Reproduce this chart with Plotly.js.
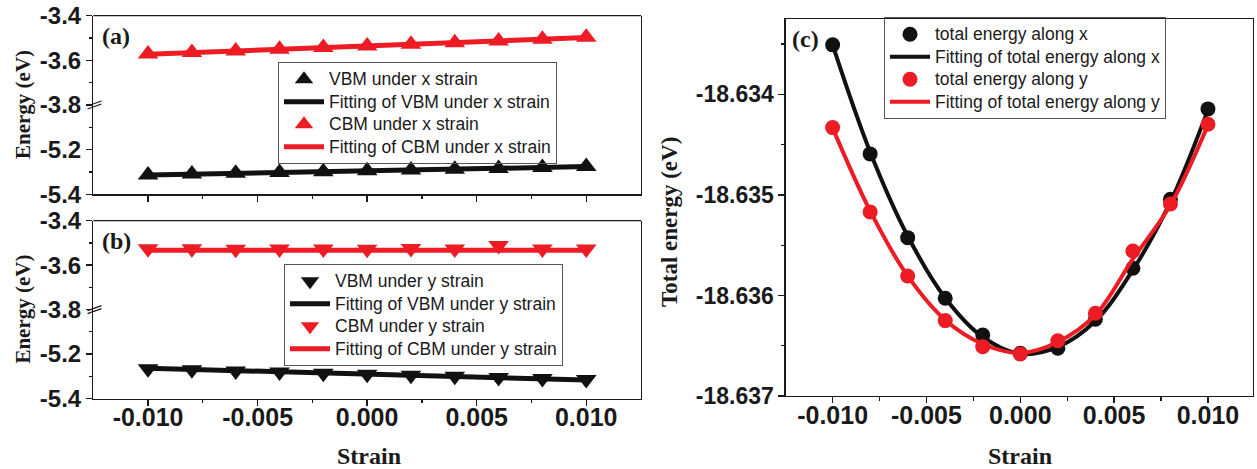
<!DOCTYPE html>
<html><head><meta charset="utf-8">
<script src="https://cdn.plot.ly/plotly-3.0.1.min.js"></script>
<style>body{margin:0;background:#fff}#chart{width:1257px;height:469px}</style>
</head><body><div id="chart"></div>
<script>
// ---- data ----
const strain = [-0.010,-0.008,-0.006,-0.004,-0.002,0.000,0.002,0.004,0.006,0.008,0.010];
const strainTicks = [-0.010,-0.005,0.000,0.005,0.010];
const strainTickText = ['-0.010','-0.005','0.000','0.005','0.010'];

// panel (a): x strain
const vbmX    = [-5.313,-5.309,-5.306,-5.302,-5.299,-5.295,-5.291,-5.288,-5.284,-5.280,-5.276];
const vbmXFit = [-5.314,-5.310,-5.306,-5.303,-5.299,-5.295,-5.291,-5.287,-5.284,-5.280,-5.276];
const cbmX    = [-3.572,-3.565,-3.558,-3.550,-3.543,-3.536,-3.528,-3.521,-3.513,-3.506,-3.497];
const cbmXFit = [-3.573,-3.566,-3.558,-3.551,-3.543,-3.536,-3.528,-3.521,-3.513,-3.506,-3.498];

// panel (b): y strain
const vbmY    = [-5.266,-5.271,-5.276,-5.281,-5.286,-5.291,-5.295,-5.300,-5.305,-5.310,-5.315];
const vbmYFit = [-5.264,-5.269,-5.275,-5.280,-5.285,-5.291,-5.296,-5.301,-5.306,-5.312,-5.317];
const cbmY    = [-3.526,-3.526,-3.528,-3.527,-3.527,-3.528,-3.525,-3.527,-3.512,-3.527,-3.527];
const cbmYFit = [-3.533,-3.533,-3.533,-3.533,-3.533,-3.533,-3.533,-3.533,-3.533,-3.533,-3.533];

// panel (c): total energy
const totX    = [-18.633507,-18.634592,-18.635425,-18.636028,-18.636393,-18.636575,-18.636525,-18.636237,-18.635729,-18.635043,-18.634144];
const totXFit = [-18.633507,-18.634572,-18.635408,-18.636025,-18.636413,-18.636582,-18.636512,-18.636254,-18.635746,-18.635070,-18.634154];
const totY    = [-18.634330,-18.635169,-18.635806,-18.636250,-18.636509,-18.636582,-18.636450,-18.636177,-18.635557,-18.635090,-18.634297];
const totYFit = [-18.634333,-18.635159,-18.635806,-18.636244,-18.636483,-18.636572,-18.636463,-18.636194,-18.635637,-18.635100,-18.634303];
const eTicks = [-18.637,-18.636,-18.635,-18.634];
const eTickText = ['-18.637','-18.636','-18.635','-18.634'];

// ---- layout helpers ----
const W = 1257, H = 469;
const fx = p => p / W, fy = p => 1 - p / H;
const RED = '#ed1c24', BLACK = '#111111', INK = '#1a1a1a';
const sans = (s) => ({family:'Liberation Sans, Arial, sans-serif', size:s, color:INK, weight:700});
const serif = (s) => ({family:'Liberation Serif, Times New Roman, serif', size:s, color:INK, weight:700});
const legFont = {family:'Liberation Sans, Arial, sans-serif', size:15, color:INK};
const big = t => '<span style="font-size:17.5px">' + t + '</span>';
const xlab = t => '<span style="font-size:25px">' + t + '</span>';

function yseg(top, bottom, range, ticks, minors, fs) {
  return {domain:[fy(bottom), fy(top)], range:range, tickvals:ticks,
    ticktext:ticks.map(v => v.toFixed(1)), ticks:'outside', ticklen:6, tickwidth:1.3, tickcolor:INK,
    minor:{tickvals:minors, ticks:'outside', ticklen:3.5, tickwidth:1.3, tickcolor:INK},
    showline:true, linewidth:1.3, linecolor:INK, mirror:true, showgrid:false, zeroline:false,
    tickfont:sans(fs || 24), fixedrange:true};
}
function xax(l, r, anchor, range, labels) {
  return {domain:[fx(l), fx(r)], anchor:anchor, range:range, tickvals:strainTicks, ticktext:strainTickText.map(xlab),
    showticklabels:labels, ticks:'outside', ticklen:6, tickwidth:1.3, tickcolor:INK,
    minor:{tickvals:[-0.0075,-0.0025,0.0025,0.0075], ticks:'outside', ticklen:3.5, tickwidth:1.3, tickcolor:INK},
    showline:true, linewidth:1.3, linecolor:INK, showgrid:false, zeroline:false, tickfont:sans(17), fixedrange:true};
}

const A = {l:93.3, r:641, top:15.7, mid:105, bot:194.3};
const B = {l:93.3, r:641, top:220.7, mid:309.6, bot:398.5};
const C = {l:785.7, r:1253, top:19, bot:396};

const traces = [
  // (a)
  {x:strain, y:vbmXFit, xaxis:'x', yaxis:'y2', mode:'lines', line:{color:BLACK, width:5}, name:big('Fitting of VBM under x strain'), legend:'legend', legendrank:2},
  {x:strain, y:vbmX, xaxis:'x', yaxis:'y2', mode:'markers', marker:{symbol:'triangle-up', size:18, color:BLACK}, name:big('VBM under x strain'), legend:'legend', legendrank:1},
  {x:strain, y:cbmXFit, xaxis:'x', yaxis:'y', mode:'lines', line:{color:RED, width:5}, name:big('Fitting of CBM under x strain'), legend:'legend', legendrank:4},
  {x:strain, y:cbmX, xaxis:'x', yaxis:'y', mode:'markers', marker:{symbol:'triangle-up', size:18, color:RED}, name:big('CBM under x strain'), legend:'legend', legendrank:3},
  // (b)
  {x:strain, y:vbmYFit, xaxis:'x2', yaxis:'y4', mode:'lines', line:{color:BLACK, width:5}, name:big('Fitting of VBM under y strain'), legend:'legend2', legendrank:2},
  {x:strain, y:vbmY, xaxis:'x2', yaxis:'y4', mode:'markers', marker:{symbol:'triangle-down', size:18, color:BLACK}, name:big('VBM under y strain'), legend:'legend2', legendrank:1},
  {x:strain, y:cbmYFit, xaxis:'x2', yaxis:'y3', mode:'lines', line:{color:RED, width:5}, name:big('Fitting of CBM under y strain'), legend:'legend2', legendrank:4},
  {x:strain, y:cbmY, xaxis:'x2', yaxis:'y3', mode:'markers', marker:{symbol:'triangle-down', size:18, color:RED}, name:big('CBM under y strain'), legend:'legend2', legendrank:3},
  // (c)
  {x:strain, y:totX, xaxis:'x3', yaxis:'y5', mode:'markers', marker:{symbol:'circle', size:15, color:BLACK}, name:big('total energy along x'), legend:'legend3', legendrank:1},
  {x:strain, y:totXFit, xaxis:'x3', yaxis:'y5', mode:'lines', line:{color:BLACK, width:4, shape:'spline'}, name:big('Fitting of total energy along x'), legend:'legend3', legendrank:2},
  {x:strain, y:totY, xaxis:'x3', yaxis:'y5', mode:'markers', marker:{symbol:'circle', size:15, color:RED}, name:big('total energy along y'), legend:'legend3', legendrank:3},
  {x:strain, y:totYFit, xaxis:'x3', yaxis:'y5', mode:'lines', line:{color:RED, width:4, shape:'spline'}, name:big('Fitting of total energy along y'), legend:'legend3', legendrank:4}
];

const legBase = {xanchor:'left', yanchor:'top', bgcolor:'rgba(255,255,255,0)', bordercolor:'#555', borderwidth:1,
  font:legFont, tracegroupgap:0, itemwidth:40, traceorder:'normal'};

const breakMarks = [];
[A.mid, B.mid].forEach(m => {
  [-1.5, 1.5].forEach(d => breakMarks.push({type:'line', xref:'paper', yref:'paper',
    x0:fx(87.5), x1:fx(101.5), y0:fy(m + d + 2.5), y1:fy(m + d - 2.5), line:{color:INK, width:1.3}}));
});
const topLines = [A, B].map(P => ({type:'line', xref:'paper', yref:'paper', x0:fx(P.l), x1:fx(P.r),
  y0:fy(P.top), y1:fy(P.top), line:{color:INK, width:1.3}}));

const annText = (t, x, y, size, angle) => ({text:t, xref:'paper', yref:'paper', x:fx(x), y:fy(y),
  xanchor:'center', yanchor:'middle', showarrow:false, font:serif(size), textangle:angle || 0});

const layout = {
  width:W, height:H, margin:{l:0, r:0, t:0, b:0}, paper_bgcolor:'#fff', plot_bgcolor:'#fff',
  xaxis: xax(A.l, A.r, 'y2', [-0.0125, 0.0125], false),
  xaxis2: xax(B.l, B.r, 'y4', [-0.0125, 0.0125], true),
  xaxis3: Object.assign(xax(C.l, C.r, 'y5', [-0.0125, 0.0124], true), {mirror:true}),
  yaxis: yseg(A.top, A.mid, [-3.8, -3.4], [-3.8, -3.6, -3.4], [-3.7, -3.5]),
  yaxis2: yseg(A.mid, A.bot, [-5.4, -5.0], [-5.4, -5.2], [-5.3, -5.1]),
  yaxis3: yseg(B.top, B.mid, [-3.8, -3.4], [-3.8, -3.6, -3.4], [-3.7, -3.5]),
  yaxis4: yseg(B.mid, B.bot, [-5.4, -5.0], [-5.4, -5.2], [-5.3, -5.1]),
  yaxis5: Object.assign(yseg(C.top, C.bot, [-18.637, -18.63325], eTicks, [-18.6365, -18.6355, -18.6345, -18.6335], 23),
    {ticktext:eTickText, anchor:'x3'}),
  legend: Object.assign({x:fx(278), y:fy(62)}, legBase),
  legend2: Object.assign({x:fx(284), y:fy(264)}, legBase),
  legend3: Object.assign({x:fx(884), y:fy(17)}, legBase),
  shapes: breakMarks.concat(topLines),
  annotations: [
    annText('(a)', 116, 36, 24), annText('(b)', 116.5, 241, 24), annText('(c)', 805, 39, 24),
    annText('Energy (eV)', 23, 105, 21, -90), annText('Energy (eV)', 23, 309.6, 21, -90),
    annText('Total energy (eV)', 670, 222, 23, -90),
    annText('Strain', 369, 456, 24), annText('Strain', 1020, 456, 24)
  ],
  showlegend:true
};
['yaxis','yaxis2'].forEach(k => layout[k].anchor = 'x');
['yaxis3','yaxis4'].forEach(k => layout[k].anchor = 'x2');

Plotly.newPlot('chart', traces, layout, {staticPlot:true, displayModeBar:false});
</script></body></html>
